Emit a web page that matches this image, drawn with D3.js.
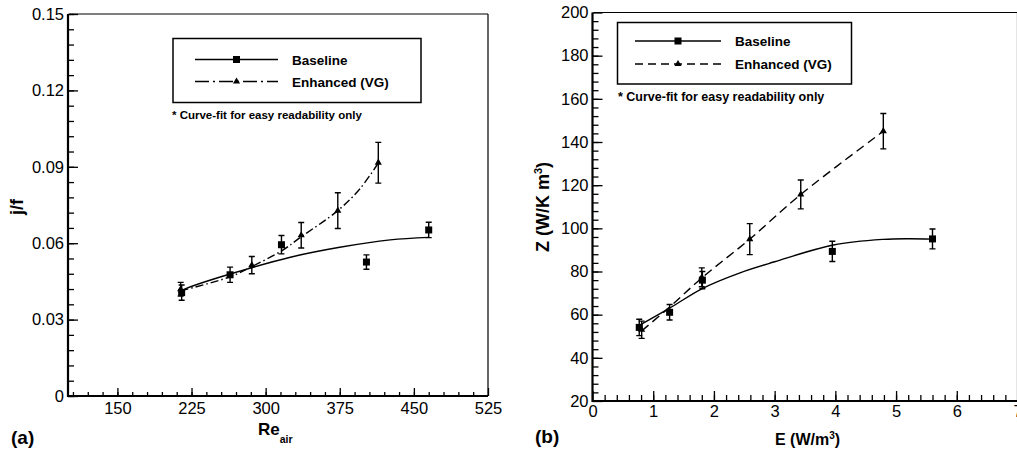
<!DOCTYPE html>
<html lang="en">
<head>
    <meta charset="UTF-8">
    <title>j/f and Z vs Re and E</title>
    <script src="https://d3js.org/d3.v7.min.js"></script>
    <style>
        body {
            margin: 0;
            background: #fff;
        }
        svg {
            display: block;
            font-family: "Liberation Sans", Arial, Helvetica, sans-serif;
        }
        .tick text {
            fill: #000;
        }
        .bold {
            font-weight: bold;
        }
    </style>
</head>
<body>
    <svg id="chart" width="1017" height="450"></svg>

    <script>
        // panel (a): j/f against Re_air
        const aBaseRe = [215, 264, 316, 402, 465];
        const aBaseJf = [0.0406, 0.0476, 0.0594, 0.0526, 0.0652];
        const aBaseErr = [0.0030, 0.0030, 0.0036, 0.0028, 0.0030];
        const aEnhRe = [214, 286, 336, 373, 414];
        const aEnhJf = [0.0419, 0.0514, 0.0631, 0.0728, 0.0916];
        const aEnhErr = [0.0027, 0.0034, 0.0050, 0.0070, 0.0080];
        // curve fits
        const aBaseFitRe = [215, 224, 264, 325, 375, 426, 465];
        const aBaseFitJf = [0.0415, 0.0429, 0.0479, 0.0545, 0.0584, 0.0613, 0.0623];
        const aEnhFitRe = [214, 264, 286, 317, 336, 373, 395, 414];
        const aEnhFitJf = [0.0413, 0.0468, 0.0508, 0.0572, 0.0625, 0.0728, 0.0812, 0.0915];
        const aMajorX = [150, 225, 300, 375, 450, 525];
        const aMajorY = [0, 0.03, 0.06, 0.09, 0.12, 0.15];

        // panel (b): Z against E
        const bBaseE = [0.77, 1.27, 1.81, 3.95, 5.60];
        const bBaseZ = [54.1, 61.1, 76.0, 89.3, 95.1];
        const bBaseErr = [3.8, 3.6, 4.0, 4.7, 4.6];
        const bEnhE = [0.81, 1.80, 2.59, 3.43, 4.79];
        const bEnhZ = [53.0, 77.3, 95.0, 115.7, 145.0];
        const bEnhErr = [4.0, 4.4, 7.2, 6.7, 8.2];
        const bBaseFitE = [0.77, 1.27, 1.80, 2.43, 3.00, 3.97, 4.79, 5.20, 5.60];
        const bBaseFitZ = [55.0, 63.0, 72.0, 79.4, 84.5, 92.3, 94.9, 95.2, 95.0];
        const bEnhFitE = [0.81, 1.27, 1.80, 2.59, 3.43, 4.79];
        const bEnhFitZ = [52.5, 63.5, 77.0, 95.0, 115.7, 145.0];
        const bMajorX = [0, 1, 2, 3, 4, 5, 6, 7];
        const bMajorY = [20, 40, 60, 80, 100, 120, 140, 160, 180, 200];

        const legendNames = ["Baseline", "Enhanced (VG)"];
        const noteText = "* Curve-fit for easy readability only";

        const svg = d3.select("#chart");
        const zip = (xs, ys) => xs.map((x, i) => [x, ys[i]]);

        function drawPanel(p) {
            const g = svg.append("g");
            const x = d3.scaleLinear().domain(p.xDomain).range(p.xRange);
            const y = d3.scaleLinear().domain(p.yDomain).range(p.yRange);

            // minor ticks
            g.append("g")
                .attr("transform", `translate(0,${p.yRange[0]})`)
                .call(d3.axisBottom(x).tickValues(p.minorX).tickSizeInner(-p.xMinorLen).tickSizeOuter(0).tickFormat(""))
                .call(a => a.select(".domain").remove());
            g.append("g")
                .attr("transform", `translate(${p.xRange[0]},0)`)
                .call(d3.axisLeft(y).tickValues(p.minorY).tickSizeInner(-6).tickSizeOuter(0).tickFormat(""))
                .call(a => a.select(".domain").remove());

            // major ticks with labels
            g.append("g")
                .attr("transform", `translate(0,${p.yRange[0]})`)
                .call(d3.axisBottom(x).tickValues(p.majorX).tickSizeInner(-p.xMajorLen).tickSizeOuter(0)
                    .tickPadding(p.xPad).tickFormat(d3.format("d")))
                .call(a => a.select(".domain").remove())
                .selectAll("text").attr("font-size", p.tickFont);
            g.append("g")
                .attr("transform", `translate(${p.xRange[0]},0)`)
                .call(d3.axisLeft(y).tickValues(p.majorY).tickSizeInner(-10).tickSizeOuter(0)
                    .tickPadding(4).tickFormat(p.yFormat))
                .call(a => a.select(".domain").remove())
                .selectAll("text").attr("font-size", p.tickFont);

            g.selectAll(".tick line").attr("stroke", "#000").attr("stroke-width", 1.3);

            // frame: thick left/bottom, thin top/right
            const [x0, x1] = p.xRange, [y0, y1] = p.yRange;
            g.append("path").attr("d", `M${x1},${y1}H${x0 + 1}`).attr("stroke", "#000").attr("stroke-width", 1.2);
            g.append("path").attr("d", `M${x1},${y1}V${y0}`).attr("stroke", "#000").attr("stroke-width", 1.2);
            g.append("path").attr("d", `M${x0},${y1}V${y0}H${x1}`).attr("fill", "none")
                .attr("stroke", "#000").attr("stroke-width", 2.2);

            // curve fits
            const line = d3.line().x(d => x(d[0])).y(d => y(d[1])).curve(d3.curveCatmullRom.alpha(0.5));
            g.append("path").datum(p.baseFit).attr("d", line)
                .attr("fill", "none").attr("stroke", "#000").attr("stroke-width", 1.4);
            g.append("path").datum(p.enhFit).attr("d", line)
                .attr("fill", "none").attr("stroke", "#000").attr("stroke-width", 1.4)
                .attr("stroke-dasharray", p.enhDash);

            // error bars
            const errs = p.basePts.concat(p.enhPts);
            const eb = g.append("g").attr("stroke", "#000").attr("stroke-width", 1.4);
            eb.selectAll("path").data(errs).join("path")
                .attr("fill", "none")
                .attr("d", d => {
                    const cx = x(d[0]), t = y(d[1] + d[2]), b = y(d[1] - d[2]);
                    return `M${cx - 3},${t}H${cx + 3}M${cx},${t}V${b}M${cx - 3},${b}H${cx + 3}`;
                });

            // markers
            g.selectAll(".sq").data(p.basePts).join("rect")
                .attr("x", d => x(d[0]) - 3.5).attr("y", d => y(d[1]) - 3.5)
                .attr("width", 7).attr("height", 7).attr("fill", "#000");
            g.selectAll(".tri").data(p.enhPts).join("path")
                .attr("transform", d => `translate(${x(d[0])},${y(d[1])})`)
                .attr("d", d3.symbol(d3.symbolTriangle, 22)).attr("fill", "#000");

            // legend
            const L = p.legend;
            g.append("rect").attr("x", L.x).attr("y", L.y).attr("width", L.w).attr("height", L.h)
                .attr("fill", "#fff").attr("stroke", "#000").attr("stroke-width", 1.5);
            const rows = [L.row1, L.row2];
            rows.forEach((ry, i) => {
                g.append("line").attr("x1", L.lx0).attr("x2", L.lx1).attr("y1", ry).attr("y2", ry)
                    .attr("stroke", "#000").attr("stroke-width", 1.4)
                    .attr("stroke-dasharray", i === 0 ? null : L.dash);
                const mx = (L.lx0 + L.lx1) / 2;
                if (i === 0) {
                    g.append("rect").attr("x", mx - 3.5).attr("y", ry - 3.5).attr("width", 7).attr("height", 7)
                        .attr("fill", "#000");
                } else {
                    g.append("path").attr("transform", `translate(${mx},${ry})`)
                        .attr("d", d3.symbol(d3.symbolTriangle, 22)).attr("fill", "#000");
                }
                g.append("text").attr("class", "bold").attr("x", L.tx).attr("y", ry + 5)
                    .attr("font-size", 13.5).text(legendNames[i]);
            });
            g.append("text").attr("class", "bold").attr("x", L.noteX).attr("y", L.noteY)
                .attr("font-size", L.noteFont).text(noteText);

            return g;
        }

        const ga = drawPanel({
            xDomain: [100, 525], xRange: [68, 488],
            yDomain: [0, 0.15], yRange: [396, 14],
            majorX: aMajorX, majorY: aMajorY,
            minorX: d3.range(105, 525, 15), minorY: d3.range(0, 0.1501, 0.006),
            xMajorLen: 8, xMinorLen: 4, xPad: 6,
            tickFont: 16.5, yFormat: d => d === 0 ? "0" : d3.format(".2f")(d),
            basePts: aBaseRe.map((r, i) => [r, aBaseJf[i], aBaseErr[i]]),
            enhPts: aEnhRe.map((r, i) => [r, aEnhJf[i], aEnhErr[i]]),
            baseFit: zip(aBaseFitRe, aBaseFitJf), enhFit: zip(aEnhFitRe, aEnhFitJf),
            enhDash: "8,3,1.5,3",
            legend: { x: 173, y: 38.5, w: 248, h: 64, row1: 59.5, row2: 81.5, lx0: 195, lx1: 278,
                      dash: "14,4,2,4", tx: 292, noteX: 172, noteY: 119, noteFont: 11.5 }
        });
        ga.append("text").attr("class", "bold").attr("font-size", 18)
            .attr("transform", "translate(23,207) rotate(-90)").attr("text-anchor", "middle").text("j/f");
        const reLabel = ga.append("text").attr("class", "bold").attr("x", 258).attr("y", 435).attr("font-size", 17);
        reLabel.append("tspan").text("Re");
        reLabel.append("tspan").attr("font-size", 10.5).attr("dy", 8).text("air");
        ga.append("text").attr("class", "bold").attr("x", 11).attr("y", 444).attr("font-size", 19).text("(a)");

        const gb = drawPanel({
            xDomain: [0, 7], xRange: [592.5, 1017.5],
            yDomain: [20, 200], yRange: [401, 12.5],
            majorX: bMajorX, majorY: bMajorY,
            minorX: d3.range(0.2, 7, 0.2), minorY: d3.range(24, 200, 4),
            xMajorLen: 10, xMinorLen: 6, xPad: 4,
            tickFont: 16.5, yFormat: d3.format("d"),
            basePts: bBaseE.map((e, i) => [e, bBaseZ[i], bBaseErr[i]]),
            enhPts: bEnhE.map((e, i) => [e, bEnhZ[i], bEnhErr[i]]),
            baseFit: zip(bBaseFitE, bBaseFitZ), enhFit: zip(bEnhFitE, bEnhFitZ),
            enhDash: "9,5",
            legend: { x: 617.5, y: 22.5, w: 234, h: 61.5, row1: 41, row2: 64, lx0: 635, lx1: 721,
                      dash: "8,5", tx: 735, noteX: 618, noteY: 101, noteFont: 12.5 }
        });
        const zLabel = gb.append("text").attr("class", "bold").attr("font-size", 18)
            .attr("transform", "translate(549,207) rotate(-90)").attr("text-anchor", "middle");
        zLabel.append("tspan").text("Z (W/K m");
        zLabel.append("tspan").attr("font-size", 11).attr("dy", -7).text("3");
        zLabel.append("tspan").attr("dy", 7).text(")");
        const eLabel = gb.append("text").attr("class", "bold").attr("x", 775).attr("y", 445).attr("font-size", 16);
        eLabel.append("tspan").text("E (W/m");
        eLabel.append("tspan").attr("font-size", 10).attr("dy", -6).text("3");
        eLabel.append("tspan").attr("dy", 6).text(")");
        gb.append("text").attr("class", "bold").attr("x", 535).attr("y", 443).attr("font-size", 19).text("(b)");
    </script>
</body>
</html>
